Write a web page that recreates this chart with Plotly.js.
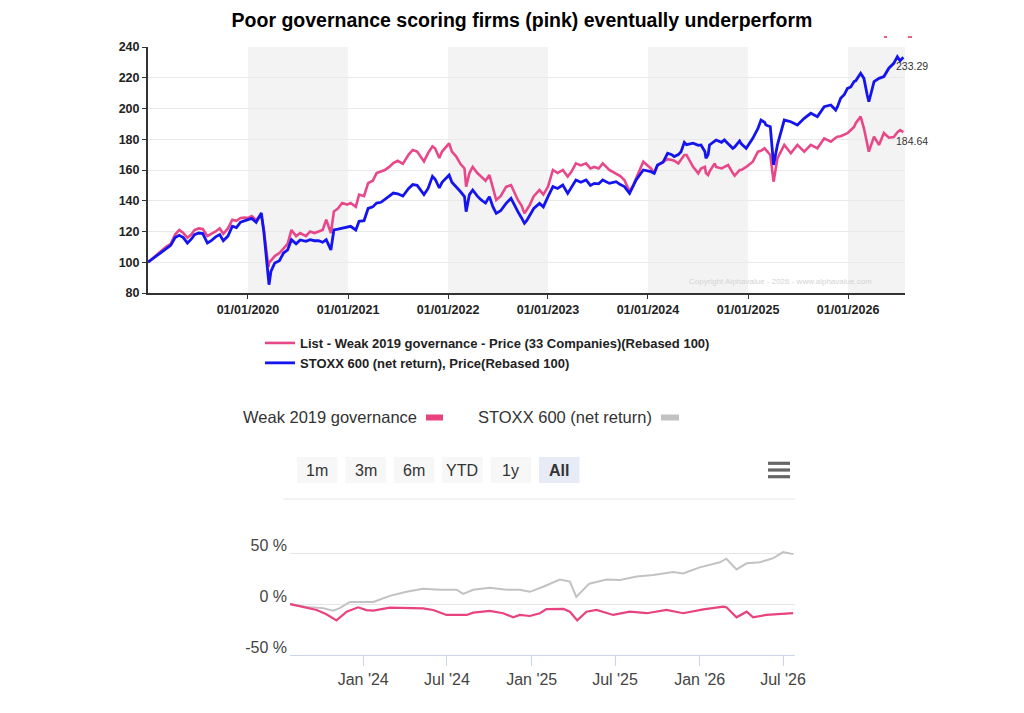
<!DOCTYPE html>
<html><head><meta charset="utf-8">
<script src="https://cdn.plot.ly/plotly-3.0.1.min.js"></script>
<style>html,body{margin:0;padding:0;background:#fff;} #chart{width:1024px;height:713px;}</style>
</head><body><div id="chart"></div>
<script>
// ---------- Top chart data (Rebased 100) ----------
const topDates = ['2019-01-01','2019-01-20','2019-02-05','2019-02-20','2019-03-08','2019-03-25','2019-04-10','2019-04-25','2019-05-10','2019-05-25','2019-06-08','2019-06-20','2019-07-05','2019-07-20','2019-08-06','2019-08-20','2019-09-05','2019-09-20','2019-10-03','2019-10-20','2019-11-05','2019-11-20','2019-12-05','2019-12-20',
'2020-01-01','2020-01-15','2020-01-31','2020-02-10','2020-02-19','2020-02-28','2020-03-09','2020-03-16','2020-03-18','2020-03-25','2020-04-08','2020-04-25','2020-05-10','2020-05-25','2020-06-08','2020-06-25','2020-07-10','2020-07-31','2020-08-15','2020-08-31','2020-09-15','2020-09-30','2020-10-13','2020-10-30','2020-11-10','2020-11-25','2020-12-10','2020-12-28',
'2021-01-10','2021-01-29','2021-02-10','2021-02-28','2021-03-15','2021-04-01','2021-04-15','2021-05-01','2021-05-15','2021-05-31','2021-06-15','2021-07-01','2021-07-20','2021-08-10','2021-08-25','2021-09-10','2021-09-25','2021-10-05','2021-10-20','2021-11-05','2021-11-15','2021-11-30','2021-12-10','2021-12-31',
'2022-01-05','2022-01-15','2022-01-31','2022-02-15','2022-03-02','2022-03-08','2022-03-20','2022-04-01','2022-04-18','2022-05-02','2022-05-18','2022-06-01','2022-06-14','2022-06-26','2022-07-12','2022-08-01','2022-08-19','2022-08-31','2022-09-13','2022-09-26','2022-10-07','2022-10-15','2022-10-26','2022-11-10','2022-12-01','2022-12-15',
'2023-01-01','2023-01-19','2023-02-05','2023-02-24','2023-03-14','2023-03-28','2023-04-13','2023-05-01','2023-05-20','2023-06-05','2023-06-19','2023-07-05','2023-07-20','2023-08-13','2023-09-07','2023-09-22','2023-10-07','2023-10-26','2023-11-08','2023-11-19','2023-12-15',
'2024-01-12','2024-01-24','2024-02-05','2024-02-25','2024-03-13','2024-03-28','2024-04-06','2024-04-21','2024-05-01','2024-05-13','2024-05-21','2024-06-14','2024-07-03','2024-07-13','2024-07-27','2024-07-31','2024-08-08','2024-08-13','2024-09-01','2024-09-06','2024-09-26','2024-10-06','2024-10-20','2024-11-06','2024-11-13','2024-12-01','2024-12-07','2024-12-25',
'2025-01-18','2025-02-06','2025-02-17','2025-03-02','2025-03-07','2025-03-23','2025-04-04','2025-04-18','2025-05-13','2025-06-06','2025-06-30','2025-07-25','2025-08-18','2025-09-11','2025-10-06','2025-10-30','2025-11-17','2025-11-23','2025-12-05','2025-12-18','2025-12-30',
'2026-01-11','2026-01-23','2026-01-29','2026-02-16','2026-02-28','2026-03-12','2026-03-18','2026-04-06','2026-04-24','2026-05-12','2026-05-30','2026-06-17','2026-06-30','2026-07-10','2026-07-22'];

const weakPrice = [100,103,105.6,107.5,110,112,118,121,119,116,118,121,122,121.6,117,118.5,120,122,118.5,122,127.7,127,128.8,129,
128.8,130,127.5,129.4,130,121,108,97,99.5,101,104,106,109,112,121,117,119,117,120,119,120,121,127.7,119,133,135,138.5,137.5,
138.5,136,144,143,151.5,153,158,159,160,162,164.5,166,164,170,173,172,168,165.6,171,175.4,174,167.8,172,176.5,
177.3,172,168.7,164,161,149.2,158,162,158,155.7,153,156.7,148,140.5,143,149,150.2,145,140.5,137,131.8,134,137.2,143,147,144,
149.2,160,158,160,155.7,159,164.3,163,164.3,161,162,161,164.3,160,157.8,156,153.5,146,150,154.6,165.4,
161,158,163,165.4,167,166.5,166,164.3,167,169.8,169.8,162.1,157.8,161,162.1,158,156.7,159,164.3,162,161,162,163.2,158,156.3,160,160,162,
165.4,171.9,172.5,174.1,173,169.8,152.4,167.6,176.3,170.9,176.3,171.9,176.3,174.1,180.6,178.4,181,181.7,182,182.8,184,
186,188,190.4,194.7,187.1,178,171.9,181.7,176.3,184,181,181.5,184.5,186,184.64];

const stoxxPrice = [100,102.5,105,106.5,109,111,116,117.5,116,112.5,115,118,119,118.6,112.5,114,116.5,118,114,117,123.4,122.5,126,127,
127.7,128.5,126,129.5,132,120,103,88,85.4,94,99.5,101,106,108,114.7,112,114.5,113.6,114.7,114,114,113,114.7,108,121,121.5,122,123,
123.4,121,126.6,127,135,136,138.5,139,140.7,143,145,144.5,143,148,150.5,150,146,144,148,155.9,154,148.3,152,155.9,
156.7,152,149.2,146,142.7,132.9,144,147,143,140.5,138.5,142.7,136,131.8,133.5,138.3,141.6,137,132.9,129,125.3,127,130.7,135,138.3,136,
142.7,149.2,148,150.2,144.8,149,153.5,152,153.5,150,151.3,151,153.5,151.3,152.4,150.5,149.2,144.8,149,153.5,160,
158.9,157.8,163.3,165,170.9,170,168.7,170,171.9,178,176.5,177.4,176,176.3,172,167.6,170,176.3,178.5,179.5,178,179.5,177,174.1,175,178.9,177,174.1,
180.6,187,192.5,191,189.3,188.2,163.3,176.3,192.5,191.4,189.3,193.6,196.9,194.7,201.2,202.3,199,201,206.6,209,213.1,
214,217.5,218,222.9,219.6,208.8,204.4,217.5,219.6,220.8,226.2,229.4,233.7,231,233.29];

const weakName = 'List - Weak 2019 governance - Price (33 Companies)(Rebased 100)';
const stoxxName = 'STOXX 600 (net return), Price(Rebased 100)';
const yearTickDates = ['2020-01-01','2021-01-01','2022-01-01','2023-01-01','2024-01-01','2025-01-01','2026-01-01'];
const yearTickLabels = ['01/01/2020','01/01/2021','01/01/2022','01/01/2023','01/01/2024','01/01/2025','01/01/2026'];
const shadedYears = [2020, 2022, 2024, 2026];
const topYRange = [80, 240];

// ---------- Bottom chart data (% performance) ----------
const weakPerfDates = ['2023-07-26','2023-08-24','2023-09-22','2023-10-13','2023-11-01','2023-11-04','2023-11-26','2023-12-21','2024-01-08','2024-01-23','2024-02-28','2024-04-04','2024-05-10','2024-06-01','2024-06-30','2024-08-13','2024-08-27','2024-10-02','2024-10-31','2024-11-22','2024-12-06','2024-12-28','2025-01-19','2025-02-02','2025-03-11','2025-03-25','2025-04-10','2025-04-30','2025-05-22','2025-06-27','2025-08-02','2025-09-08','2025-10-21','2025-11-26','2026-01-09','2026-02-21','2026-02-28','2026-03-22','2026-04-13','2026-04-27','2026-05-26','2026-07-23'];
const weakPerf = [0,-3,-5.8,-10,-15,-16,-7.5,-3.2,-6,-6.5,-3.6,-4.2,-4.2,-5.8,-10.7,-10.7,-8.4,-6.8,-9,-13,-10.7,-11.7,-9,-5,-4.8,-7.5,-16,-7.5,-5.8,-10.7,-7.5,-9,-5.8,-9,-5.2,-2.6,-3.2,-13,-7.5,-13,-10.7,-9];
const stoxxPerfDates = ['2023-07-26','2023-08-31','2023-10-06','2023-10-28','2023-11-11','2023-12-03','2024-01-23','2024-02-28','2024-04-04','2024-05-10','2024-06-16','2024-07-22','2024-08-05','2024-08-27','2024-10-02','2024-11-07','2024-12-06','2024-12-28','2025-01-26','2025-03-03','2025-03-25','2025-04-08','2025-05-06','2025-06-13','2025-07-12','2025-08-17','2025-09-22','2025-11-04','2025-11-26','2026-01-01','2026-02-14','2026-02-28','2026-03-22','2026-04-13','2026-05-12','2026-06-10','2026-07-01','2026-07-23'];
const stoxxPerf = [0,-3,-4,-6.5,-4,2,2,8,12,15,14,14,10,14,16,14,14,12,17,24,22,7,20,24,23.5,27,28.5,31.5,30,36,41,44.5,34,40,41,45,51,49];
const weakShort = 'Weak 2019 governance';
const stoxxShort = 'STOXX 600 (net return)';
const perfTickDates = ['2024-01-01','2024-07-01','2025-01-01','2025-07-01','2026-01-01','2026-07-01'];
const perfTickLabels = ["Jan '24","Jul '24","Jan '25","Jul '25","Jan '26","Jul '26"];
const perfTickVals = [-50, 0, 50];
const perfTickText = ['-50 %', '0 %', '50 %'];
const rangeButtons = ['1m','3m','6m','YTD','1y','All'];
const activeButton = 'All';

// ---------- helpers: page pixel -> paper ----------
const W = 1024, H = 713;
const px = v => v / W;
const py = v => 1 - v / H;

const FONT = 'Liberation Sans, Arial, Helvetica, sans-serif';
const PINK = '#e8478a';
const BLUE = '#1414ee';
const PINK2 = '#e8437f';
const GREY2 = '#c2c2c2';

const traces = [
  {x: topDates, y: weakPrice, name: weakName, type: 'scatter', mode: 'lines', line: {color: PINK, width: 2.6}, xaxis: 'x', yaxis: 'y'},
  {x: topDates, y: stoxxPrice, name: stoxxName, type: 'scatter', mode: 'lines', line: {color: BLUE, width: 2.8}, xaxis: 'x', yaxis: 'y'},
  {x: stoxxPerfDates, y: stoxxPerf, name: stoxxShort, type: 'scatter', mode: 'lines', line: {color: GREY2, width: 2}, xaxis: 'x2', yaxis: 'y2', showlegend: false},
  {x: weakPerfDates, y: weakPerf, name: weakShort, type: 'scatter', mode: 'lines', line: {color: PINK2, width: 2.2}, xaxis: 'x2', yaxis: 'y2', showlegend: false}
];

const shapes = [];
shadedYears.forEach(yr => {
  shapes.push({type: 'rect', xref: 'x', yref: 'y', x0: yr + '-01-01', x1: (yr + 1) + '-01-01', y0: topYRange[0], y1: topYRange[1],
    fillcolor: '#f3f3f3', line: {width: 0}, layer: 'below'});
});
// tiny marks at top right
shapes.push({type: 'line', xref: 'paper', yref: 'paper', x0: px(884), x1: px(887), y0: py(37), y1: py(37), line: {color: '#e8607a', width: 2}});
shapes.push({type: 'line', xref: 'paper', yref: 'paper', x0: px(908), x1: px(912), y0: py(37), y1: py(37), line: {color: '#e8607a', width: 2}});

const annotations = [];
// end labels
annotations.push({xref: 'x', yref: 'y', x: topDates[topDates.length - 1], y: stoxxPrice[stoxxPrice.length - 1],
  text: stoxxPrice[stoxxPrice.length - 1].toFixed(2), showarrow: false, xanchor: 'left', yanchor: 'middle', xshift: -9, yshift: -9,
  font: {family: FONT, size: 10.5, color: '#333'}});
annotations.push({xref: 'x', yref: 'y', x: topDates[topDates.length - 1], y: weakPrice[weakPrice.length - 1],
  text: weakPrice[weakPrice.length - 1].toFixed(2), showarrow: false, xanchor: 'left', yanchor: 'middle', xshift: -9, yshift: -9,
  font: {family: FONT, size: 10.5, color: '#333'}});
// copyright
annotations.push({xref: 'paper', yref: 'paper', x: px(780), y: py(281), text: 'Copyright Alphavalue - 2026 - www.alphavalue.com',
  showarrow: false, xanchor: 'center', yanchor: 'middle', font: {family: FONT, size: 8, color: '#d4d4d4'}});

// bottom legend
annotations.push({xref: 'paper', yref: 'paper', x: px(241), y: py(417), text: weakShort, showarrow: false, xanchor: 'left', yanchor: 'middle',
  font: {family: FONT, size: 16.5, color: '#333'}});
shapes.push({type: 'rect', xref: 'paper', yref: 'paper', x0: px(426), x1: px(443), y0: py(420.5), y1: py(414.5), fillcolor: PINK2, line: {width: 0}});
annotations.push({xref: 'paper', yref: 'paper', x: px(476), y: py(417), text: stoxxShort, showarrow: false, xanchor: 'left', yanchor: 'middle',
  font: {family: FONT, size: 16.5, color: '#333'}});
shapes.push({type: 'rect', xref: 'paper', yref: 'paper', x0: px(661), x1: px(679), y0: py(420.5), y1: py(414.5), fillcolor: GREY2, line: {width: 0}});

// range buttons
rangeButtons.forEach((b, i) => {
  const x0 = 297 + i * 48.4, x1 = x0 + 40.5;
  const act = b === activeButton;
  shapes.push({type: 'rect', xref: 'paper', yref: 'paper', x0: px(x0), x1: px(x1), y0: py(483), y1: py(457),
    fillcolor: act ? '#e6ebf5' : '#f7f7f7', line: {width: 0}});
  annotations.push({xref: 'paper', yref: 'paper', x: px((x0 + x1) / 2), y: py(470), text: act ? '<b>' + b + '</b>' : b,
    showarrow: false, xanchor: 'center', yanchor: 'middle', font: {family: FONT, size: 16, color: '#333'}});
});
// menu icon
[463.3, 470, 476.7].forEach(yy => {
  shapes.push({type: 'line', xref: 'paper', yref: 'paper', x0: px(768), x1: px(790), y0: py(yy), y1: py(yy), line: {color: '#666', width: 3.2}});
});
// separator
shapes.push({type: 'line', xref: 'paper', yref: 'paper', x0: px(283), x1: px(795), y0: py(499), y1: py(499), line: {color: '#e6e6e6', width: 1}});

const layout = {
  width: W, height: H, autosize: false,
  margin: {l: 0, r: 0, t: 0, b: 0, pad: 0},
  paper_bgcolor: '#fff', plot_bgcolor: 'rgba(0,0,0,0)',
  font: {family: FONT, color: '#222'},
  title: {text: 'Poor governance scoring firms (pink) eventually underperform', x: px(522), xanchor: 'center', y: py(20), yanchor: 'middle',
    font: {family: FONT, size: 19.5, weight: 'bold', color: '#000'}},
  showlegend: true,
  legend: {x: px(260), y: py(328), xanchor: 'left', yanchor: 'top', bgcolor: 'rgba(0,0,0,0)', borderwidth: 0,
    font: {family: FONT, size: 13, weight: 'bold', color: '#222'}, tracegroupgap: 0, itemwidth: 30, traceorder: 'normal'},
  xaxis: {domain: [px(148), px(905)], anchor: 'y', type: 'date', range: ['2019-01-01', '2026-07-28'],
    tickmode: 'array', tickvals: yearTickDates, ticktext: yearTickLabels, ticks: 'outside', ticklen: 4, tickcolor: '#333', tickwidth: 1,
    showline: true, linecolor: '#333', linewidth: 2, showgrid: false, zeroline: false,
    tickfont: {family: FONT, size: 12.5, weight: 'bold', color: '#222'}, fixedrange: true},
  yaxis: {domain: [py(293), py(47)], anchor: 'x', range: topYRange, dtick: 20, tick0: 80,
    ticks: 'outside', ticklen: 4, tickcolor: '#333', showline: true, linecolor: '#333', linewidth: 2,
    showgrid: true, gridcolor: '#e9e9e9', gridwidth: 1, zeroline: false,
    tickfont: {family: FONT, size: 12.5, weight: 'bold', color: '#222'}, fixedrange: true},
  xaxis2: {domain: [px(290), px(795)], anchor: 'y2', type: 'date', range: ['2023-07-26', '2026-07-27'],
    tickmode: 'array', tickvals: perfTickDates, ticktext: perfTickLabels, ticks: 'outside', ticklen: 10, tickcolor: '#ccd6eb', tickwidth: 1,
    showline: true, linecolor: '#ccd6eb', linewidth: 1, showgrid: false, zeroline: false,
    tickfont: {family: FONT, size: 16, color: '#444'}, fixedrange: true},
  yaxis2: {domain: [py(655), py(548)], anchor: 'x2', range: [-50, 55], tickmode: 'array', tickvals: perfTickVals, ticktext: perfTickText,
    ticks: '', showline: false, showgrid: true, gridcolor: '#e6e6e6', gridwidth: 1, zeroline: false, ticklabelshift: -8, ticklabelstandoff: 2,
    tickfont: {family: FONT, size: 16, color: '#444'}, fixedrange: true},
  shapes: shapes,
  annotations: annotations,
  hovermode: false
};

Plotly.newPlot('chart', traces, layout, {staticPlot: true, displayModeBar: false});
</script>
</body></html>
